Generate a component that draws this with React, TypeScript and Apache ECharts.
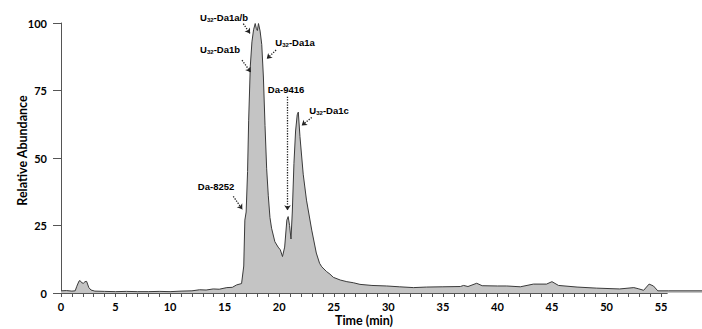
import React, { useEffect, useRef } from "react";
import * as echarts from "echarts";

const times = [
  0, 0.5, 1.0, 1.3, 1.45, 1.65, 1.75, 1.9, 2.05, 2.2, 2.35, 2.55, 2.75, 3.1, 4.0, 5.0, 6.0, 7.0, 8.0, 9.0,
  10.0, 11.0, 12.0, 12.7, 13.3, 13.95, 14.5, 15.2, 15.7, 16.1, 16.55, 16.75, 16.85, 16.97, 17.1, 17.2,
  17.35, 17.5, 17.65, 17.8, 17.9, 18.0, 18.1, 18.25, 18.4, 18.55, 18.7, 18.85, 19.0, 19.15, 19.3, 19.6,
  19.9, 20.1, 20.3, 20.5, 20.7, 20.82, 20.95, 21.08, 21.2, 21.35, 21.5, 21.65, 21.75, 21.9, 22.2, 22.5,
  22.98, 23.4, 23.7, 23.9, 24.35, 24.65, 24.96, 25.6, 26.2, 26.8, 27.4, 28.5, 29.85, 31.0, 32.3, 33.5,
  35.0, 36.6, 36.9, 37.3, 38.1, 38.6, 40.0, 40.85, 42.1, 43.3, 44.5, 45.0, 45.6, 47.3, 49.1, 51.2, 52.5,
  52.9, 53.4, 53.9, 54.3, 54.7, 55.7, 58.75,
];
const abundance = [
  0.8, 0.9, 0.7, 0.8, 2.5, 4.4, 4.6, 3.8, 3.6, 4.2, 4.3, 2.0, 1.1, 0.7, 0.6, 0.5, 0.6, 0.5, 0.5, 0.6,
  0.5, 0.7, 0.8, 1.2, 1.1, 1.5, 1.4, 2.0, 2.1, 3.0, 3.5, 10, 27, 30, 45, 64,
  84, 93, 97.5, 99.8, 98, 97.2, 99.8, 97, 92, 80, 62, 46, 36, 28, 24, 19,
  17, 16, 13.5, 17, 27, 28.3, 25, 20, 30, 48, 60, 66, 67, 58, 44, 34.4,
  23.3, 14.8, 11, 9.7, 7.9, 7.0, 5.8, 4.8, 4.2, 3.8, 3.2, 2.8, 2.6, 2.3, 2.0, 2.2,
  2.3, 2.4, 2.8, 2.4, 3.6, 2.7, 2.6, 2.6, 2.3, 3.3, 3.3, 4.2, 2.8, 2.2, 1.8, 1.5, 2.0,
  1.6, 1.0, 3.3, 2.6, 0.8, 0.8, 0.8,
];

const xLabelValues = [0, 5, 10, 15, 20, 25, 30, 35, 40, 45, 50, 55];
const xTickValues = Array.from({ length: 56 }, (_, i) => i);
const xAxisEnd = 55.6;
const xMax = 58.75;

const annotationLabels = [
  ["U", "32", "-Da1a/b"],
  ["U", "32", "-Da1b"],
  ["U", "32", "-Da1a"],
  ["", "", "Da-9416"],
  ["U", "32", "-Da1c"],
  ["", "", "Da-8252"],
];
const annotationTextAt = [
  [14.94, 103.3],
  [14.58, 91.5],
  [21.45, 94.1],
  [20.63, 76.5],
  [24.57, 68.5],
  [14.21, 40.0],
];
const arrowFrom = [
  [16.71, 101.1],
  [16.59, 87.4],
  [19.71, 91.2],
  [20.76, 73.7],
  [22.98, 65.9],
  [15.79, 36.3],
];
const arrowTo = [
  [17.33, 97.4],
  [17.39, 82.9],
  [18.86, 87.9],
  [20.76, 31.1],
  [22.06, 62.9],
  [16.62, 31.4],
];

export default function App() {
  const ref = useRef<HTMLDivElement>(null);
  useEffect(() => {
    document.body.style.margin = "0";
    if (!ref.current) return;
    const chart = echarts.init(ref.current, null, { renderer: "svg" });
    const data = times.map((t, i) => [t, abundance[i]]);
    const tickFont = { fontFamily: "Lato", fontWeight: "bold" as const, fontSize: 11, color: "#000" };
    const annFont = "Liberation Sans";
    // overlay grid: same pixel mapping, but y range extended to 110 so labels above 100 can be placed
    const plotTop = 23;
    const plotBottom = 36;
    const pxPerUnit = (329 - plotTop - plotBottom) / 100;
    const overlayTop = plotTop - 10 * pxPerUnit;
    chart.setOption({
      animation: false,
      grid: [
        { left: 61, right: 0, top: plotTop, bottom: plotBottom },
        { left: 61, right: 0, top: overlayTop, bottom: plotBottom },
      ],
      xAxis: [
        {
          type: "value",
          gridIndex: 0,
          min: 0,
          max: xMax,
          axisLine: { show: false },
          splitLine: { show: false },
          axisTick: {
            show: true,
            length: 4,
            customValues: xTickValues,
            lineStyle: { color: "#555" },
          },
          axisLabel: { ...tickFont, margin: 8, customValues: xLabelValues },
        },
        {
          type: "value",
          gridIndex: 1,
          min: 0,
          max: xMax,
          show: false,
        },
      ],
      yAxis: [
        {
          type: "value",
          gridIndex: 0,
          min: 0,
          max: 100,
          interval: 25,
          axisLine: { show: true, lineStyle: { color: "#555" } },
          splitLine: { show: false },
          axisTick: { show: true, length: 8, lineStyle: { color: "#555" } },
          axisLabel: { ...tickFont, margin: 14 },
        },
        {
          type: "value",
          gridIndex: 1,
          min: 0,
          max: 110,
          show: false,
        },
      ],
      graphic: [
        {
          type: "text",
          x: 22,
          y: 150.5,
          rotation: Math.PI / 2,
          style: {
            text: "Relative Abundance",
            font: "bold 12.5px Lato",
            fill: "#000",
            textAlign: "center",
            textVerticalAlign: "middle",
          },
        },
        {
          type: "text",
          x: 364,
          y: 320,
          style: {
            text: "Time (min)",
            font: "bold 12.5px Lato",
            fill: "#000",
            textAlign: "center",
            textVerticalAlign: "middle",
          },
        },
      ],
      series: [
        {
          type: "line",
          xAxisIndex: 0,
          yAxisIndex: 0,
          data,
          symbol: "none",
          lineStyle: { color: "#3a3a3a", width: 1 },
          areaStyle: { color: "#c4c4c4", opacity: 1 },
          markLine: {
            silent: true,
            symbol: "none",
            label: { show: false },
            data: [
              [
                { coord: [0, 0], lineStyle: { type: "solid", color: "#555", width: 1 } },
                { coord: [xAxisEnd, 0] },
              ],
            ],
          },
        },
        {
          type: "line",
          xAxisIndex: 1,
          yAxisIndex: 1,
          data: [[0, 0]],
          symbol: "none",
          lineStyle: { opacity: 0 },
          clip: false,
          markLine: {
            silent: true,
            symbol: ["none", "arrow"],
            symbolSize: 5,
            label: { show: false },
            data: arrowFrom.map((p, i) => [
              { coord: p, lineStyle: { type: "dotted", color: "#222", width: 1.3 } },
              { coord: arrowTo[i] },
            ]),
          },
          markPoint: {
            silent: true,
            symbol: "circle",
            symbolSize: 0,
            data: annotationTextAt.map((p, i) => ({
              coord: p,
              label: {
                show: true,
                position: "inside",
                formatter: annotationLabels[i][0]
                  ? `{a|${annotationLabels[i][0]}}{s|${annotationLabels[i][1]}}{a|${annotationLabels[i][2]}}`
                  : `{a|${annotationLabels[i][2]}}`,
                rich: {
                  a: { fontFamily: annFont, fontWeight: "bold", fontSize: 9.5, color: "#000", lineHeight: 12 },
                  s: {
                    fontFamily: annFont,
                    fontWeight: "bold",
                    fontSize: 6,
                    color: "#000",
                    lineHeight: 12,
                    padding: [5, 0, 0, 0],
                  },
                },
              },
            })),
          },
        },
      ],
    });
    return () => chart.dispose();
  }, []);
  return <div ref={ref} style={{ width: 702, height: 329 }} />;
}
